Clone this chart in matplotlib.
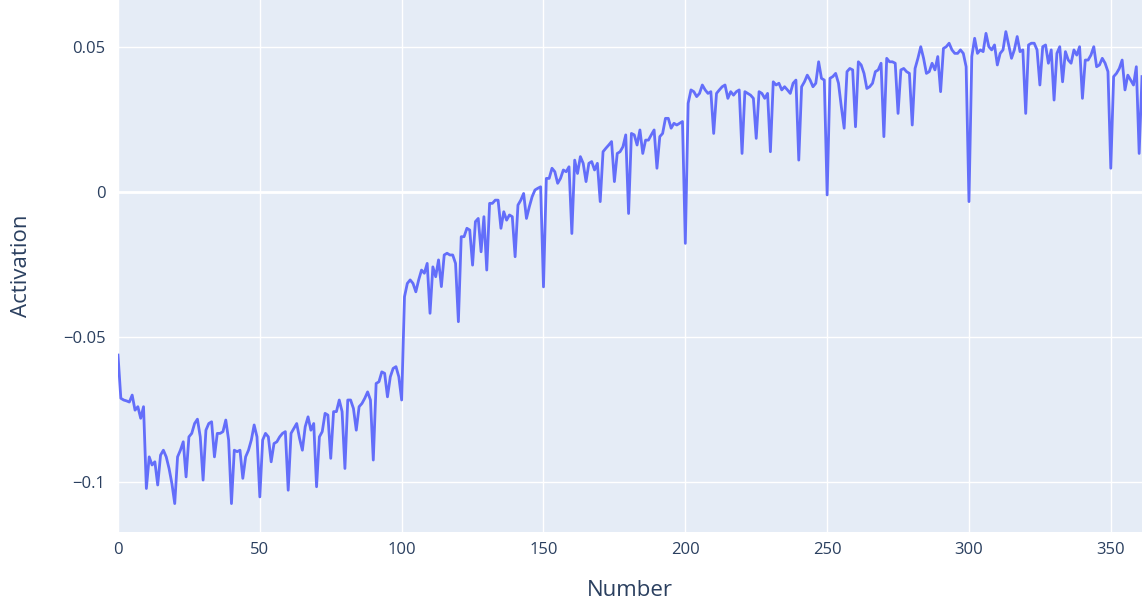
import numpy as np
import matplotlib.pyplot as plt

# activation per unit, index 0..361
activation = [
    -0.0562, -0.0711, -0.0717, -0.0720, -0.0724, -0.0700, -0.0752, -0.0740, -0.0780, -0.0740,
    -0.1022, -0.0913, -0.0941, -0.0930, -0.1010, -0.0907, -0.0890, -0.0913, -0.0953, -0.1005,
    -0.1074, -0.0913, -0.0890, -0.0861, -0.0982, -0.0844, -0.0832, -0.0798, -0.0783, -0.0844,
    -0.0993, -0.0821, -0.0798, -0.0792, -0.0913, -0.0832, -0.0832, -0.0826, -0.0786, -0.0855,
    -0.1074, -0.0890, -0.0895, -0.0890, -0.0987, -0.0913, -0.0890, -0.0855, -0.0803, -0.0844,
    -0.1051, -0.0855, -0.0832, -0.0844, -0.0930, -0.0867, -0.0861, -0.0844, -0.0832, -0.0826,
    -0.1028, -0.0832, -0.0815, -0.0798, -0.0849, -0.0890, -0.0809, -0.0775, -0.0821, -0.0798,
    -0.1016, -0.0844, -0.0826, -0.0763, -0.0769, -0.0918, -0.0757, -0.0757, -0.0717, -0.0757,
    -0.0953, -0.0717, -0.0717, -0.0746, -0.0821, -0.0740, -0.0729, -0.0711, -0.0689, -0.0717,
    -0.0924, -0.0660, -0.0654, -0.0620, -0.0625, -0.0706, -0.0637, -0.0608, -0.0602, -0.0637,
    -0.0717, -0.0361, -0.0315, -0.0303, -0.0315, -0.0344, -0.0303, -0.0269, -0.0280, -0.0246,
    -0.0418, -0.0258, -0.0292, -0.0234, -0.0326, -0.0217, -0.0211, -0.0217, -0.0217, -0.0246,
    -0.0447, -0.0154, -0.0154, -0.0125, -0.0131, -0.0252, -0.0102, -0.0091, -0.0206, -0.0085,
    -0.0269, -0.0039, -0.0039, -0.0028, -0.0028, -0.0125, -0.0068, -0.0097, -0.0079, -0.0085,
    -0.0223, -0.0045, -0.0028, -0.0005, -0.0091, -0.0051, -0.0016, 0.0007, 0.0013, 0.0018,
    -0.0327, 0.0047, 0.0047, 0.0082, 0.0070, 0.0030, 0.0047, 0.0076, 0.0070, 0.0087,
    -0.0143, 0.0110, 0.0064, 0.0122, 0.0099, 0.0036, 0.0099, 0.0105, 0.0076, 0.0099,
    -0.0033, 0.0139, 0.0151, 0.0162, 0.0174, 0.0036, 0.0133, 0.0139, 0.0156, 0.0197,
    -0.0074, 0.0202, 0.0197, 0.0162, 0.0214, 0.0133, 0.0179, 0.0179, 0.0197, 0.0214,
    0.0082, 0.0191, 0.0202, 0.0254, 0.0254, 0.0220, 0.0237, 0.0231, 0.0237, 0.0243,
    -0.0177, 0.0306, 0.0352, 0.0346, 0.0329, 0.0340, 0.0369, 0.0352, 0.0340, 0.0346,
    0.0202, 0.0340, 0.0352, 0.0363, 0.0369, 0.0323, 0.0346, 0.0334, 0.0346, 0.0352,
    0.0133, 0.0346, 0.0340, 0.0334, 0.0323, 0.0185, 0.0346, 0.0340, 0.0323, 0.0340,
    0.0139, 0.0380, 0.0369, 0.0375, 0.0352, 0.0363, 0.0352, 0.0340, 0.0375, 0.0386,
    0.0110, 0.0363, 0.0380, 0.0403, 0.0386, 0.0363, 0.0375, 0.0449, 0.0392, 0.0386,
    -0.0010, 0.0392, 0.0398, 0.0409, 0.0375, 0.0294, 0.0220, 0.0415, 0.0426, 0.0421,
    0.0225, 0.0449, 0.0438, 0.0409, 0.0357, 0.0363, 0.0375, 0.0415, 0.0421, 0.0444,
    0.0191, 0.0461, 0.0449, 0.0449, 0.0444, 0.0271, 0.0421, 0.0426, 0.0415, 0.0409,
    0.0231, 0.0426, 0.0461, 0.0501, 0.0461, 0.0409, 0.0415, 0.0444, 0.0421, 0.0467,
    0.0346, 0.0495, 0.0501, 0.0513, 0.0490, 0.0478, 0.0478, 0.0490, 0.0478, 0.0432,
    -0.0033, 0.0467, 0.0530, 0.0478, 0.0490, 0.0484, 0.0547, 0.0501, 0.0490, 0.0507,
    0.0438, 0.0478, 0.0490, 0.0553, 0.0507, 0.0461, 0.0490, 0.0536, 0.0484, 0.0490,
    0.0271, 0.0507, 0.0513, 0.0513, 0.0490, 0.0369, 0.0501, 0.0507, 0.0444, 0.0490,
    0.0317, 0.0478, 0.0501, 0.0380, 0.0484, 0.0455, 0.0444, 0.0490, 0.0472, 0.0501,
    0.0323, 0.0455, 0.0455, 0.0472, 0.0501, 0.0432, 0.0438, 0.0461, 0.0444, 0.0415,
    0.0082, 0.0398, 0.0409, 0.0426, 0.0455, 0.0352, 0.0403, 0.0386, 0.0369, 0.0432,
    0.0133, 0.0398,
]
number = np.arange(len(activation))

xticks = [0, 50, 100, 150, 200, 250, 300, 350]
yticks = [-0.1, -0.05, 0, 0.05]
ytick_labels = ['\u22120.1', '\u22120.05', '0', '0.05']

plt.rcParams['font.family'] = ['Open Sans', 'DejaVu Sans']
text_color = '#2a3f5f'

fig = plt.figure(figsize=(11.42, 6.05), dpi=100)
ax = fig.add_axes([118 / 1142, 73 / 605, 1024 / 1142, 532 / 605])
ax.set_facecolor('#E5ECF6')

ax.plot(number, activation, color='#636EFA', linewidth=2.0, solid_joinstyle='round', zorder=3)

ax.set_xlim(0, 361)
ax.set_ylim(-0.1172, 0.0662)
ax.set_xticks(xticks)
ax.set_yticks(yticks)
ax.set_yticklabels(ytick_labels)
ax.grid(True, color='white', linewidth=1.0, zorder=0)
ax.axhline(0, color='white', linewidth=2.0, zorder=1)
ax.set_axisbelow(True)

for side in ax.spines.values():
    side.set_visible(False)
ax.tick_params(axis='both', length=0, labelsize=12, labelcolor=text_color)
ax.tick_params(axis='y', pad=9)
ax.tick_params(axis='x', pad=7)

ax.set_xlabel('Number', fontsize=16, color=text_color, labelpad=16)
ax.set_ylabel('Activation', fontsize=16, color=text_color, labelpad=22)

fig.savefig('out.png', dpi=100)
